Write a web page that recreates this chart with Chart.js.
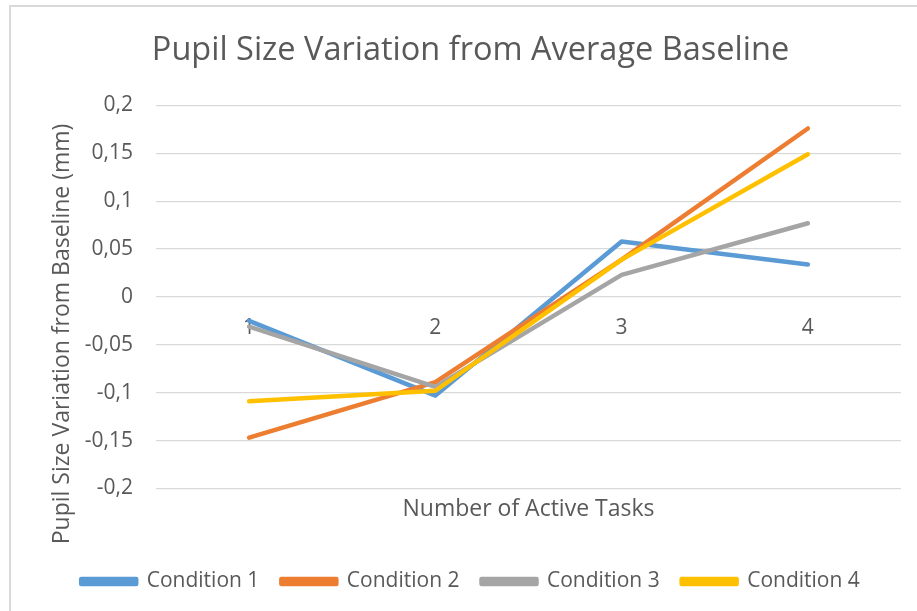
<!DOCTYPE html>
<html>
<head>
<meta charset="utf-8">
<script src="https://cdn.jsdelivr.net/npm/chart.js@4.4.1/dist/chart.umd.min.js"></script>
<style>
  html, body { margin: 0; padding: 0; background: #fff; overflow: hidden; }
  #wrap { position: relative; width: 917px; height: 611px; }
  #frame { position: absolute; left: 9px; top: 5px; width: 1000px; height: 700px;
           border-left: 2px solid #d9d9d9; border-top: 2px solid #d9d9d9; }
  canvas { position: absolute; left: 0; top: 0; }
</style>
</head>
<body>
<div id="wrap">
  <div id="frame"></div>
  <canvas id="myChart" width="917" height="611"></canvas>
</div>
<script>
// 軸とデータ
var categories = ["1", "2", "3", "4"];
var seriesNames = ["Condition 1", "Condition 2", "Condition 3", "Condition 4"];
var cond1 = [-0.025, -0.103, 0.058, 0.034];
var cond2 = [-0.147, -0.089, 0.039, 0.176];
var cond3 = [-0.031, -0.094, 0.023, 0.077];
var cond4 = [-0.109, -0.098, 0.039, 0.149];
var yMin = -0.2, yMax = 0.2, yStep = 0.05;
var yTitle = "Pupil Size Variation from Baseline (mm)";

var colors = ["#5B9BD5", "#ED7D31", "#A5A5A5", "#FFC000"];
var textColor = "#595959";
var fontFamily = "'Open Sans', sans-serif";

function makeDataset(i, values) {
  return {
    label: seriesNames[i],
    data: values,
    borderColor: colors[i],
    backgroundColor: colors[i],
    borderWidth: 4.5,
    borderCapStyle: "round",
    borderJoinStyle: "round",
    pointRadius: 0,
    tension: 0,
    fill: false,
    xAxisID: "x",
    order: 4 - i // Excelと同じく後の系列を上に描く
  };
}

function fmt(v) {
  var r = Math.round(v * 100) / 100;
  if (r === 0) r = 0;
  return String(r).replace(".", ",");
}

// Y軸タイトル（Excelはプロット＋X軸タイトルの中央に置く）
var yTitlePlugin = {
  id: "yTitle",
  afterDraw: function(chart) {
    var c = chart.ctx;
    var area = chart.chartArea;
    c.save();
    c.translate(62, (area.top + area.bottom) / 2 + 37);
    c.rotate(-Math.PI / 2);
    c.fillStyle = textColor;
    c.font = "23px " + fontFamily;
    c.textAlign = "center";
    c.textBaseline = "middle";
    c.fillText(yTitle, 0, 0);
    c.restore();
  }
};

var ctx = document.getElementById("myChart").getContext("2d");
var myChart = new Chart(ctx, {
  type: "line",
  data: {
    labels: categories,
    datasets: [
      makeDataset(0, cond1),
      makeDataset(1, cond2),
      makeDataset(2, cond3),
      makeDataset(3, cond4)
    ]
  },
  plugins: [yTitlePlugin],
  options: {
    responsive: false,
    animation: false,
    devicePixelRatio: 1,
    layout: { padding: { left: 40, right: 16, top: 0, bottom: 9 } },
    plugins: {
      tooltip: { enabled: false },
      title: {
        display: true,
        text: "Pupil Size Variation from Average Baseline",
        color: textColor,
        font: { family: fontFamily, size: 32.5, weight: "normal" },
        padding: { top: 31, bottom: 35.5 }
      },
      legend: {
        position: "bottom",
        labels: {
          color: textColor,
          font: { family: fontFamily, size: 21 },
          boxWidth: 55,
          boxHeight: 5,
          padding: 22,
          sort: function(a, b) { return a.datasetIndex - b.datasetIndex; }
        }
      }
    },
    scales: {
      x: {
        type: "category",
        position: { y: 0 },
        offset: true,
        grid: { display: false, drawTicks: false },
        border: { display: false },
        ticks: { color: textColor, font: { family: fontFamily, size: 21 }, padding: 18 }
      },
      x2: {
        type: "category",
        labels: categories,
        position: "bottom",
        offset: true,
        grid: { display: false, drawTicks: false },
        border: { display: false },
        ticks: { display: false },
        title: {
          display: true,
          text: "Number of Active Tasks",
          color: textColor,
          font: { family: fontFamily, size: 23 },
          padding: { top: 7, bottom: 26 }
        }
      },
      y: {
        min: yMin,
        max: yMax,
        grid: { color: "#d9d9d9", lineWidth: 1.2, drawTicks: false },
        border: { display: false },
        afterFit: function(scale) { scale.width = 116; },
        ticks: {
          stepSize: yStep,
          color: textColor,
          font: { family: fontFamily, size: 21 },
          padding: 23,
          callback: function(v) { return fmt(v); }
        }
      }
    }
  }
});
</script>
</body>
</html>
